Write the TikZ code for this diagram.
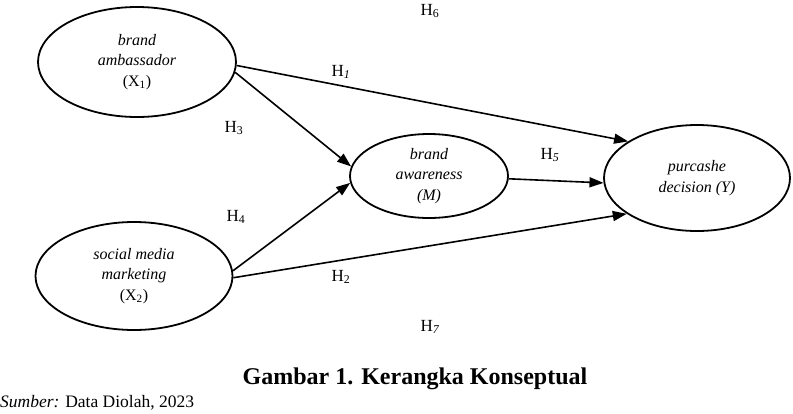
\documentclass[tikz,border=0pt]{standalone}
\usepackage{fontspec}
\setmainfont{Liberation Serif}
\usetikzlibrary{shapes.geometric,arrows.meta}
\begin{document}
\begin{tikzpicture}[x=1pt,y=-1pt,
  var/.style={ellipse,draw,line width=1.8pt,inner sep=0pt,align=center,
    font=\fontsize{16}{20.5}\selectfont\itshape},
  link/.style={line width=1.6pt,-{Triangle[length=14pt,width=10pt]}},
  hyp/.style={font=\fontsize{17}{20}\selectfont}]
\useasboundingbox (0,0) rectangle (793,413);
\node[var,minimum width=198pt,minimum height=110pt] (X1) at (137,62)
  {brand\\ambassador\\{\upshape (X\textsubscript{1})}};
\node[var,minimum width=197pt,minimum height=108pt] (X2) at (134,276)
  {social media\\marketing\\{\upshape (X\textsubscript{2})}};
\node[var,minimum width=158pt,minimum height=84pt] (M) at (429,176)
  {brand\\awareness\\(M)};
\node[var,minimum width=186pt,minimum height=106pt] (Y) at (697,178)
  {purcashe\\decision (Y)};
\draw[link] (X1.-2) -- (Y.152);
\draw[link] (X1.-6) -- (M.173);
\draw[link] (X2.3) -- (M.185);
\draw[link] (X2.-1) -- (Y.207);
\draw[link] (M.-2) -- (Y.183);
\node[hyp] (h6) at (430,11) {H\textsubscript{6}};
\node[hyp] (h1) at (341,72) {H\textsubscript{\itshape 1}};
\node[hyp] (h3) at (234,128) {H\textsubscript{3}};
\node[hyp] (h5) at (550,155) {H\textsubscript{\itshape 5}};
\node[hyp] (h4) at (236,217) {H\textsubscript{4}};
\node[hyp] (h2) at (341,277) {H\textsubscript{2}};
\node[hyp] (h7) at (430,327) {H\textsubscript{\itshape 7}};
\node[font=\fontsize{24}{28}\selectfont\bfseries] (cap) at (415,379) {Gambar 1. Kerangka Konseptual};
\node[font=\fontsize{17.5}{20}\selectfont,anchor=west,inner sep=0pt] (src) at (0,403) {\textit{Sumber:} Data Diolah, 2023};
\end{tikzpicture}
\end{document}
